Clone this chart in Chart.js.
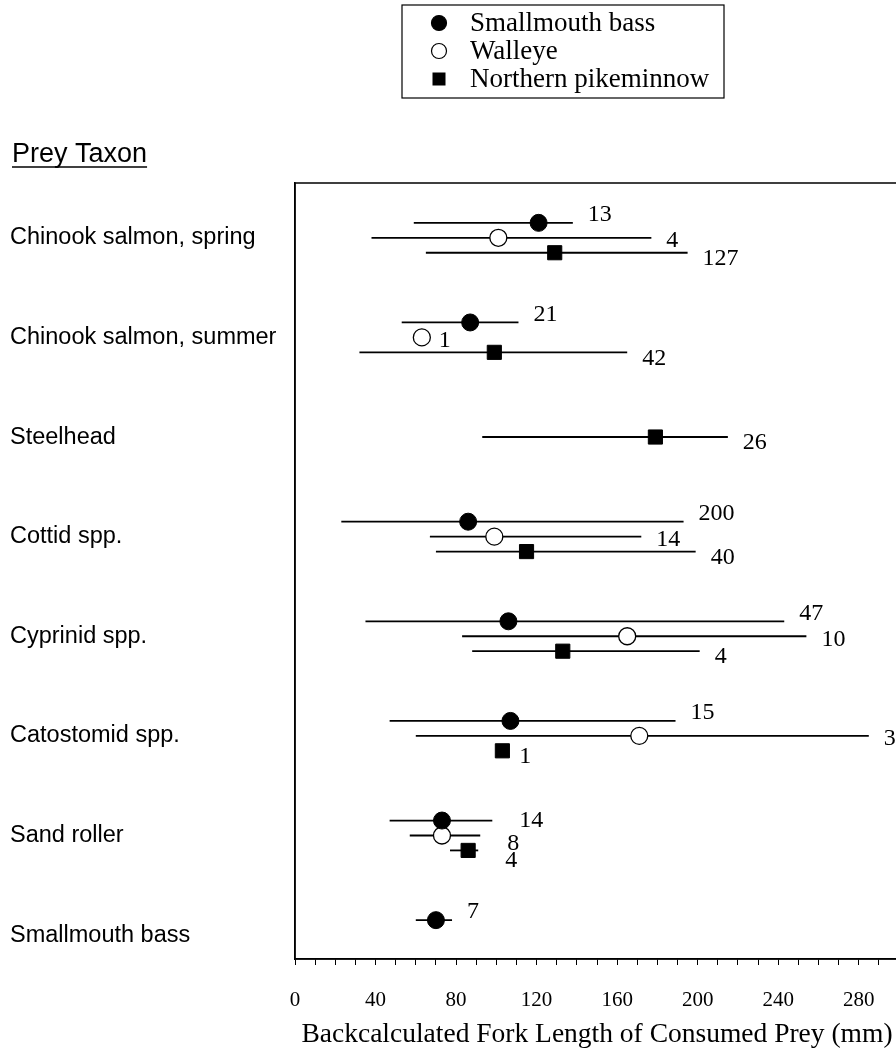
<!DOCTYPE html>
<html>
<head>
<meta charset="utf-8">
<script src="https://cdn.jsdelivr.net/npm/chart.js@4.4.1/dist/chart.umd.min.js"></script>
<style>
  html, body { margin: 0; padding: 0; background: #fff; overflow: hidden; }
  #wrap { width: 922px; height: 1055px; }
</style>
</head>
<body>
<div id="wrap"><canvas id="chart" width="922" height="1055"></canvas></div>
<script>
// prey taxa, top to bottom
const taxa = ['Chinook salmon, spring', 'Chinook salmon, summer', 'Steelhead', 'Cottid spp.',
  'Cyprinid spp.', 'Catostomid spp.', 'Sand roller', 'Smallmouth bass'];
const predators = ['Smallmouth bass', 'Walleye', 'Northern pikeminnow'];

// mean, range and sample size of backcalculated prey fork length (mm); null = none
const smbMean = [121, 87, null, 86, 106, 107, 73, 70];
const smbLow  = [59, 53, null, 23, 35, 47, 47, 60];
const smbHigh = [138, 111, null, 193, 243, 189, 98, 78];
const smbN    = [13, 21, null, 200, 47, 15, 14, 7];

const wallMean = [101, 63, null, 99, 165, 171, 73, null];
const wallLow  = [38, null, null, 67, 83, 60, 57, null];
const wallHigh = [177, null, null, 172, 254, 285, 92, null];
const wallN    = [4, 1, null, 14, 10, 3, 8, null];

const npmMean = [129, 99, 179, 115, 133, 103, 86, null];
const npmLow  = [65, 32, 93, 70, 88, null, 77, null];
const npmHigh = [195, 165, 215, 199, 201, null, 91, null];
const npmN    = [127, 42, 26, 40, 4, 1, 4, null];

const xLabelEvery = 40;

const serif = '"Liberation Serif", "Times New Roman", serif';
const sans = '"Liberation Sans", Arial, sans-serif';

// vertical shift of each predator within a taxon row
const shift = [-0.15, 0, 0.15];

function points(mean, low, high, n, s) {
  const out = [];
  mean.forEach((m, i) => {
    if (m === null) return;
    const solo = taxa[i] === 'Steelhead';
    out.push({ x: m, y: i + 1 + (solo ? 0 : shift[s]), lo: low[i], hi: high[i], n: n[i], row: i });
  });
  return out;
}

const rangeBars = {
  id: 'rangeBars',
  beforeDatasetsDraw(chart) {
    const { ctx, scales: { x, y } } = chart;
    ctx.save();
    ctx.strokeStyle = '#000';
    ctx.lineWidth = 1.8;
    chart.data.datasets.forEach(ds => {
      ds.data.forEach(p => {
        if (p.lo === null || p.hi === null) return;
        const py = y.getPixelForValue(p.y);
        ctx.beginPath();
        ctx.moveTo(x.getPixelForValue(p.lo), py);
        ctx.lineTo(x.getPixelForValue(p.hi), py);
        ctx.stroke();
      });
    });
    ctx.restore();
  },
  afterDatasetsDraw(chart) {
    const { ctx, scales: { x, y } } = chart;
    const dy = [-8, 3, 6];
    ctx.save();
    ctx.fillStyle = '#000';
    ctx.font = '24px ' + serif;
    ctx.textAlign = 'left';
    ctx.textBaseline = 'middle';
    chart.data.datasets.forEach((ds, s) => {
      ds.data.forEach(p => {
        let px, py = y.getPixelForValue(p.y) + dy[s];
        if (p.hi !== null) px = x.getPixelForValue(p.hi) + 15;
        else px = x.getPixelForValue(p.x) + 17;
        // the three sand roller counts sit further out, stepped down
        if (taxa[p.row] === 'Sand roller') { px += 12; py += [8, 5, 4][s]; }
        ctx.fillText(String(p.n), px, py);
      });
    });
    ctx.restore();
  }
};

const frame = {
  id: 'frame',
  afterDraw(chart) {
    const { ctx, chartArea: a } = chart;
    ctx.save();
    ctx.strokeStyle = '#000';
    ctx.lineWidth = 1.5;
    ctx.strokeRect(a.left, a.top, a.right - a.left, a.bottom - a.top);

    // heading over the taxon labels
    ctx.font = '27px ' + sans;
    ctx.fillStyle = '#000';
    ctx.textBaseline = 'alphabetic';
    ctx.fillText('Prey Taxon', 12, 162);
    const w = ctx.measureText('Prey Taxon').width;
    ctx.lineWidth = 1.5;
    ctx.beginPath();
    ctx.moveTo(12, 167);
    ctx.lineTo(12 + w, 167);
    ctx.stroke();

    // boxed legend
    const bx = 402, by = 5, bw = 322, bh = 93;
    ctx.lineWidth = 1.2;
    ctx.strokeRect(bx, by, bw, bh);
    ctx.font = '27px ' + serif;
    ctx.textBaseline = 'middle';
    chart.data.datasets.forEach((ds, i) => {
      const ly = by + 18 + i * 28;
      const lx = bx + 37;
      ctx.beginPath();
      if (ds.pointStyle === 'rect') {
        ctx.fillStyle = '#000';
        ctx.fillRect(lx - 6.5, ly - 6.5, 13, 13);
      } else {
        ctx.arc(lx, ly, 7.5, 0, Math.PI * 2);
        ctx.fillStyle = ds.pointBackgroundColor;
        ctx.fill();
        ctx.lineWidth = 1.2;
        ctx.stroke();
      }
      ctx.fillStyle = '#000';
      ctx.fillText(ds.label, bx + 68, ly + 1);
    });
    ctx.restore();
  }
};

new Chart(document.getElementById('chart'), {
  type: 'scatter',
  data: {
    datasets: [
      {
        label: predators[0],
        data: points(smbMean, smbLow, smbHigh, smbN, 0),
        pointStyle: 'circle',
        pointRadius: 8.5,
        pointBackgroundColor: '#000',
        pointBorderColor: '#000',
        pointBorderWidth: 1
      },
      {
        label: predators[1],
        data: points(wallMean, wallLow, wallHigh, wallN, 1),
        pointStyle: 'circle',
        pointRadius: 8.5,
        pointBackgroundColor: '#fff',
        pointBorderColor: '#000',
        pointBorderWidth: 1.3
      },
      {
        label: predators[2],
        data: points(npmMean, npmLow, npmHigh, npmN, 2),
        pointStyle: 'rect',
        pointRadius: 10,
        pointBackgroundColor: '#000',
        pointBorderColor: '#000',
        pointBorderWidth: 1
      }
    ]
  },
  options: {
    responsive: false,
    animation: false,
    layout: { autoPadding: false, padding: { left: 10, top: 183, right: 12, bottom: 0 } },
    plugins: {
      legend: { display: false },
      tooltip: { enabled: false }
    },
    scales: {
      x: {
        type: 'linear',
        min: 0,
        max: 300,
        border: { display: true, color: '#000', width: 1.5 },
        grid: { drawOnChartArea: false, drawTicks: true, tickLength: 6, color: '#000', lineWidth: 1 },
        ticks: {
          stepSize: 10,
          autoSkip: false,
          maxRotation: 0,
          padding: 23,
          color: '#000',
          font: { family: serif, size: 21 },
          callback: v => (v % xLabelEvery === 0 && v <= 280 ? v : '')
        },
        title: {
          display: true,
          text: 'Backcalculated Fork Length of Consumed Prey (mm)',
          color: '#000',
          font: { family: serif, size: 27.5 },
          padding: { top: 0, bottom: 4 }
        },
        afterFit(scale) { scale.height = 96; }
      },
      y: {
        type: 'linear',
        reverse: true,
        min: 0.45,
        max: 8.24,
        border: { display: true, color: '#000', width: 1.5 },
        grid: { display: false },
        afterBuildTicks(scale) {
          scale.ticks = taxa.map((t, i) => ({ value: i + 1 }));
        },
        ticks: {
          autoSkip: false,
          crossAlign: 'far',
          color: '#000',
          font: { family: sans, size: 23.5 },
          callback: (v, i) => taxa[i]
        },
        afterFit(scale) { scale.width = 285; }
      }
    }
  },
  plugins: [rangeBars, frame]
});
</script>
</body>
</html>
